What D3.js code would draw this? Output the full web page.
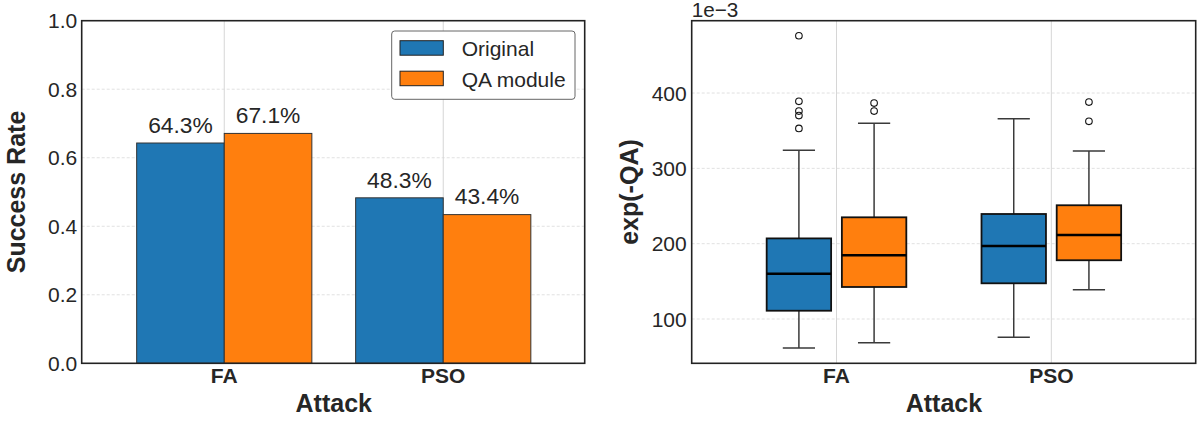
<!DOCTYPE html>
<html><head><meta charset="utf-8">
<script src="https://cdn.jsdelivr.net/npm/d3@7"></script>
<style>body{margin:0;background:#fff}svg{display:block}text{font-family:"Liberation Sans",Arial,sans-serif;fill:#262626}</style>
</head><body>
<svg id="c" width="1198" height="421"></svg>
<script>
const categories = ["FA", "PSO"];
const seriesNames = ["Original", "QA module"];
const colors = ["#1f77b4", "#ff7f0e"];
const successOriginal = [0.643, 0.483];
const successQA = [0.671, 0.434];
const barLabelsOriginal = ["64.3%", "48.3%"];
const barLabelsQA = ["67.1%", "43.4%"];
const yTicksLeft = [0.0, 0.2, 0.4, 0.6, 0.8, 1.0];
const yTicksRight = [100, 200, 300, 400];
// box stats (x1e-3): [whiskerLow, q1, median, q3, whiskerHigh]
const boxOriginal = [[61.5, 111, 160, 207, 324], [75.7, 147.4, 197, 239.4, 366]];
const boxQA = [[68.5, 142.5, 184.5, 235, 360], [139, 178, 211.5, 251, 323]];
const outliersOriginal = [[476, 389, 376, 370, 353], []];
const outliersQA = [[386.7, 376], [388, 362.4]];

const svg = d3.select("#c");

function frame(g, L, R, T, B) {
  g.append("rect").attr("x", L).attr("y", T).attr("width", R - L).attr("height", B - T)
    .attr("fill", "none").attr("stroke", "#222").attr("stroke-width", 1.6);
}

// ---------- Left: bar chart ----------
{
  const L = 81.7, R = 584.7, T = 20.7, B = 363.3;
  const x = d3.scaleLinear().domain([-0.651, 1.646]).range([L, R]);
  const y = d3.scaleLinear().domain([0, 1]).range([B, T]);
  const g = svg.append("g");
  g.selectAll(".hg").data(yTicksLeft.slice(1, -1)).join("line")
    .attr("x1", L).attr("x2", R).attr("y1", d => y(d)).attr("y2", d => y(d))
    .attr("stroke", "#d9d9d9").attr("stroke-width", 0.8).attr("stroke-dasharray", "3,2");
  g.selectAll(".vg").data(categories).join("line")
    .attr("x1", (d, i) => x(i)).attr("x2", (d, i) => x(i)).attr("y1", T).attr("y2", B)
    .attr("stroke", "#d6d6d6").attr("stroke-width", 1);
  const w = 0.4;
  const series = [successOriginal, successQA];
  const labels = [barLabelsOriginal, barLabelsQA];
  series.forEach((vals, s) => {
    const off = s === 0 ? -w : 0;
    g.selectAll(".b" + s).data(vals).join("rect")
      .attr("x", (d, i) => x(i + off)).attr("width", x(w) - x(0))
      .attr("y", d => y(d)).attr("height", d => B - y(d))
      .attr("fill", colors[s]).attr("stroke", "#333").attr("stroke-width", 1);
    g.selectAll(".l" + s).data(vals).join("text")
      .attr("x", (d, i) => x(i + off + w / 2)).attr("y", d => y(d) - 10.3)
      .attr("text-anchor", "middle").attr("font-size", 22.8).text((d, i) => labels[s][i]);
  });
  frame(g, L, R, T, B);
  g.selectAll(".yt").data(yTicksLeft).join("text")
    .attr("x", L - 4.5).attr("y", d => y(d) + 7.5).attr("text-anchor", "end")
    .attr("font-size", 21).text(d => d.toFixed(1));
  g.selectAll(".xt").data(categories).join("text")
    .attr("x", (d, i) => x(i)).attr("y", 383.3).attr("text-anchor", "middle")
    .attr("font-size", 21).attr("font-weight", "bold").text(d => d);
  g.append("text").attr("x", x(0.5)).attr("y", 411.5).attr("text-anchor", "middle")
    .attr("font-size", 25).attr("font-weight", "bold").text("Attack");
  g.append("text").attr("transform", `translate(25,${(T + B) / 2}) rotate(-90)`)
    .attr("text-anchor", "middle").attr("font-size", 25).attr("font-weight", "bold").text("Success Rate");
  const lg = g.append("g");
  lg.append("rect").attr("x", 391.7).attr("y", 31).attr("width", 183.3).attr("height", 68.3)
    .attr("rx", 3).attr("fill", "#fff").attr("stroke", "#666").attr("stroke-width", 1);
  seriesNames.forEach((n, i) => {
    lg.append("rect").attr("x", 400).attr("y", 40.7 + i * 30.5).attr("width", 43.3).attr("height", 14.5)
      .attr("fill", colors[i]).attr("stroke", "#222").attr("stroke-width", 1);
    lg.append("text").attr("x", 461.7).attr("y", 55.7 + i * 30.8).attr("font-size", 21).text(n);
  });
}

// ---------- Right: box plot ----------
{
  const L = 691.7, R = 1195.7, T = 20.7, B = 363.3;
  const x = d3.scaleLinear().domain([-0.674, 1.672]).range([L, R]);
  const y = d3.scaleLinear().domain([41.2, 496]).range([B, T]);
  const g = svg.append("g");
  g.selectAll(".hg").data(yTicksRight).join("line")
    .attr("x1", L).attr("x2", R).attr("y1", d => y(d)).attr("y2", d => y(d))
    .attr("stroke", "#d9d9d9").attr("stroke-width", 0.8).attr("stroke-dasharray", "3,2");
  g.selectAll(".vg").data(categories).join("line")
    .attr("x1", (d, i) => x(i)).attr("x2", (d, i) => x(i)).attr("y1", T).attr("y2", B)
    .attr("stroke", "#d6d6d6").attr("stroke-width", 1);
  const bw = 0.3, offs = [-0.175, 0.175];
  const boxes = [boxOriginal, boxQA];
  const outs = [outliersOriginal, outliersQA];
  boxes.forEach((set, s) => {
    set.forEach((b, i) => {
      const cx = i + offs[s];
      const [wl, q1, md, q3, wh] = b;
      const wg = g.append("g");
      wg.append("line").attr("x1", x(cx)).attr("x2", x(cx)).attr("y1", y(q3)).attr("y2", y(wh))
        .attr("stroke", "#3a3a3a").attr("stroke-width", 1.5);
      wg.append("line").attr("x1", x(cx)).attr("x2", x(cx)).attr("y1", y(q1)).attr("y2", y(wl))
        .attr("stroke", "#3a3a3a").attr("stroke-width", 1.5);
      [wl, wh].forEach(v => wg.append("line")
        .attr("x1", x(cx - bw / 4)).attr("x2", x(cx + bw / 4)).attr("y1", y(v)).attr("y2", y(v))
        .attr("stroke", "#3a3a3a").attr("stroke-width", 1.5));
      wg.append("rect").attr("x", x(cx - bw / 2)).attr("width", x(bw) - x(0))
        .attr("y", y(q3)).attr("height", y(q1) - y(q3))
        .attr("fill", colors[s]).attr("stroke", "#111").attr("stroke-width", 1.8);
      wg.append("line").attr("x1", x(cx - bw / 2)).attr("x2", x(cx + bw / 2)).attr("y1", y(md)).attr("y2", y(md))
        .attr("stroke", "#000").attr("stroke-width", 2.5);
      wg.selectAll("circle").data(outs[s][i]).join("circle")
        .attr("cx", x(cx)).attr("cy", d => y(d)).attr("r", 3.3)
        .attr("fill", "none").attr("stroke", "#111").attr("stroke-width", 1.1);
    });
  });
  frame(g, L, R, T, B);
  g.selectAll(".yt").data(yTicksRight).join("text")
    .attr("x", L - 5).attr("y", d => y(d) + 7.5).attr("text-anchor", "end")
    .attr("font-size", 21).text(d => d);
  g.append("text").attr("x", L).attr("y", 16.7).attr("font-size", 20.7).text("1e\u22123");
  g.selectAll(".xt").data(categories).join("text")
    .attr("x", (d, i) => x(i)).attr("y", 383.3).attr("text-anchor", "middle")
    .attr("font-size", 21).attr("font-weight", "bold").text(d => d);
  g.append("text").attr("x", x(0.5)).attr("y", 411.5).attr("text-anchor", "middle")
    .attr("font-size", 25).attr("font-weight", "bold").text("Attack");
  g.append("text").attr("transform", `translate(638,${(T + B) / 2}) rotate(-90)`)
    .attr("text-anchor", "middle").attr("font-size", 25).attr("font-weight", "bold").text("exp(-QA)");
}
</script>
</body></html>
